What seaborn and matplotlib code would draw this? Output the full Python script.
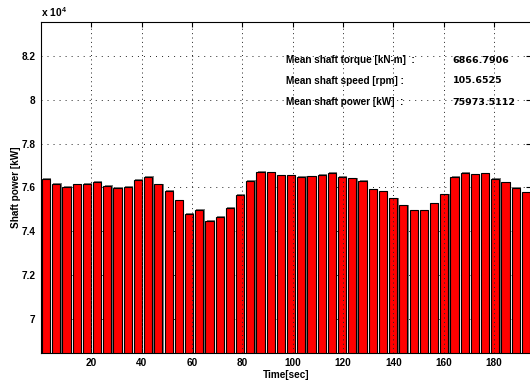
import numpy as np
import pandas as pd
import matplotlib
matplotlib.use("Agg")
import matplotlib.pyplot as plt
import matplotlib.patheffects as pe
from matplotlib.ticker import FixedLocator, FuncFormatter
import seaborn as sns

# Segment-averaged shaft power [kW], one value per time segment
segment_length = 4.056  # seconds per segment
shaft_power = [
    76402, 76160, 76037, 76146, 76174, 76265, 76069, 75991, 76037, 76343,
    76480, 76146, 75854, 75416, 74791, 74988, 74472, 74654, 75065, 75658,
    76311, 76722, 76694, 76557, 76557, 76480, 76511, 76571, 76676, 76480,
    76420, 76297, 75918, 75827, 75508, 75188, 74960, 74960, 75279, 75690,
    76480, 76676, 76603, 76648, 76388, 76237, 75977, 75781,
]
segment_mid = (np.arange(len(shaft_power)) + 0.5) * segment_length

summary_labels = [
    "Mean shaft torque [kN-m]  :",
    "Mean shaft speed [rpm] :",
    "Mean shaft power [kW]  :",
]
summary_values = ["6866.7906", "105.6525", "75973.5112"]

x_ticks = [20, 40, 60, 80, 100, 120, 140, 160, 180]
y_ticks = [70000, 72000, 74000, 76000, 78000, 80000, 82000]
y_limits = (68460, 83550)

df = pd.DataFrame({"time": segment_mid, "power": shaft_power})

sns.set_theme(style="white")
plt.rcParams["font.family"] = ["Liberation Sans", "DejaVu Sans"]
plt.rcParams["mathtext.default"] = "regular"
plt.rcParams["text.color"] = "black"
plt.rcParams["axes.labelcolor"] = "black"

fig = plt.figure(figsize=(5.3, 3.8), dpi=100)
ax = fig.add_axes([41 / 530, 27.3 / 380, 490 / 530, 330.7 / 380])

sns.barplot(
    data=df, x="time", y="power", native_scale=True, orient="x",
    color="#ff0000", saturation=1, width=0.8, errorbar=None,
    edgecolor="black", linewidth=0.8, ax=ax,
)
for patch in ax.patches:
    patch.set_path_effects([
        pe.SimplePatchShadow(offset=(0.9, 0.5), shadow_rgbFace="#7a7a7a", alpha=1.0),
        pe.Normal(),
    ])
    patch.set_zorder(2)

ax.set_xlim(0, len(shaft_power) * segment_length)
ax.set_ylim(*y_limits)
ax.xaxis.set_major_locator(FixedLocator(x_ticks))
ax.yaxis.set_major_locator(FixedLocator(y_ticks))
ax.xaxis.set_major_formatter(FuncFormatter(lambda v, p: f"{v:g}"))
ax.yaxis.set_major_formatter(FuncFormatter(lambda v, p: f"{v / 1e4:g}"))

ax.tick_params(axis="both", which="major", direction="in", length=3.5, width=0.8,
               color="black", top=True, right=True, labelsize=7.2, pad=4,
               labelcolor="black")
for lbl in ax.get_xticklabels() + ax.get_yticklabels():
    lbl.set_fontweight("bold")

# dotted grid: vertical lines over the bars, horizontal behind them
ax.grid(True, axis="x", color="#222222", linestyle=(0, (1, 3.5)), linewidth=0.7)
ax.grid(True, axis="y", color="#222222", linestyle=(0, (1, 5.2)), linewidth=0.7)
ax.xaxis.set_zorder(2.5)
ax.yaxis.set_zorder(0.5)

for s in ax.spines.values():
    s.set_color("black")
    s.set_linewidth(0.8)
    s.set_zorder(3)

ax.set_xlabel("Time[sec]", fontsize=7.2, fontweight="bold", labelpad=1)
ax.set_ylabel("Shaft power [kW]", fontsize=7.2, fontweight="bold", labelpad=0)

ax.text(0.0, 1.008, r"x 10$^4$", transform=ax.transAxes, fontsize=7.4,
        fontweight="bold", ha="left", va="bottom")

rows_y = [0.885, 0.822, 0.758]
for label, value, yy in zip(summary_labels, summary_values, rows_y):
    ax.text(0.499, yy, label, transform=ax.transAxes, fontsize=7.2,
            fontweight="bold", ha="left", va="center", zorder=5)
    ax.text(0.8405, yy, value, transform=ax.transAxes, fontsize=6.8,
            fontweight="bold", family=["DejaVu Sans"], ha="left", va="center",
            zorder=5)

fig.savefig("out.png", dpi=100, facecolor="white")
